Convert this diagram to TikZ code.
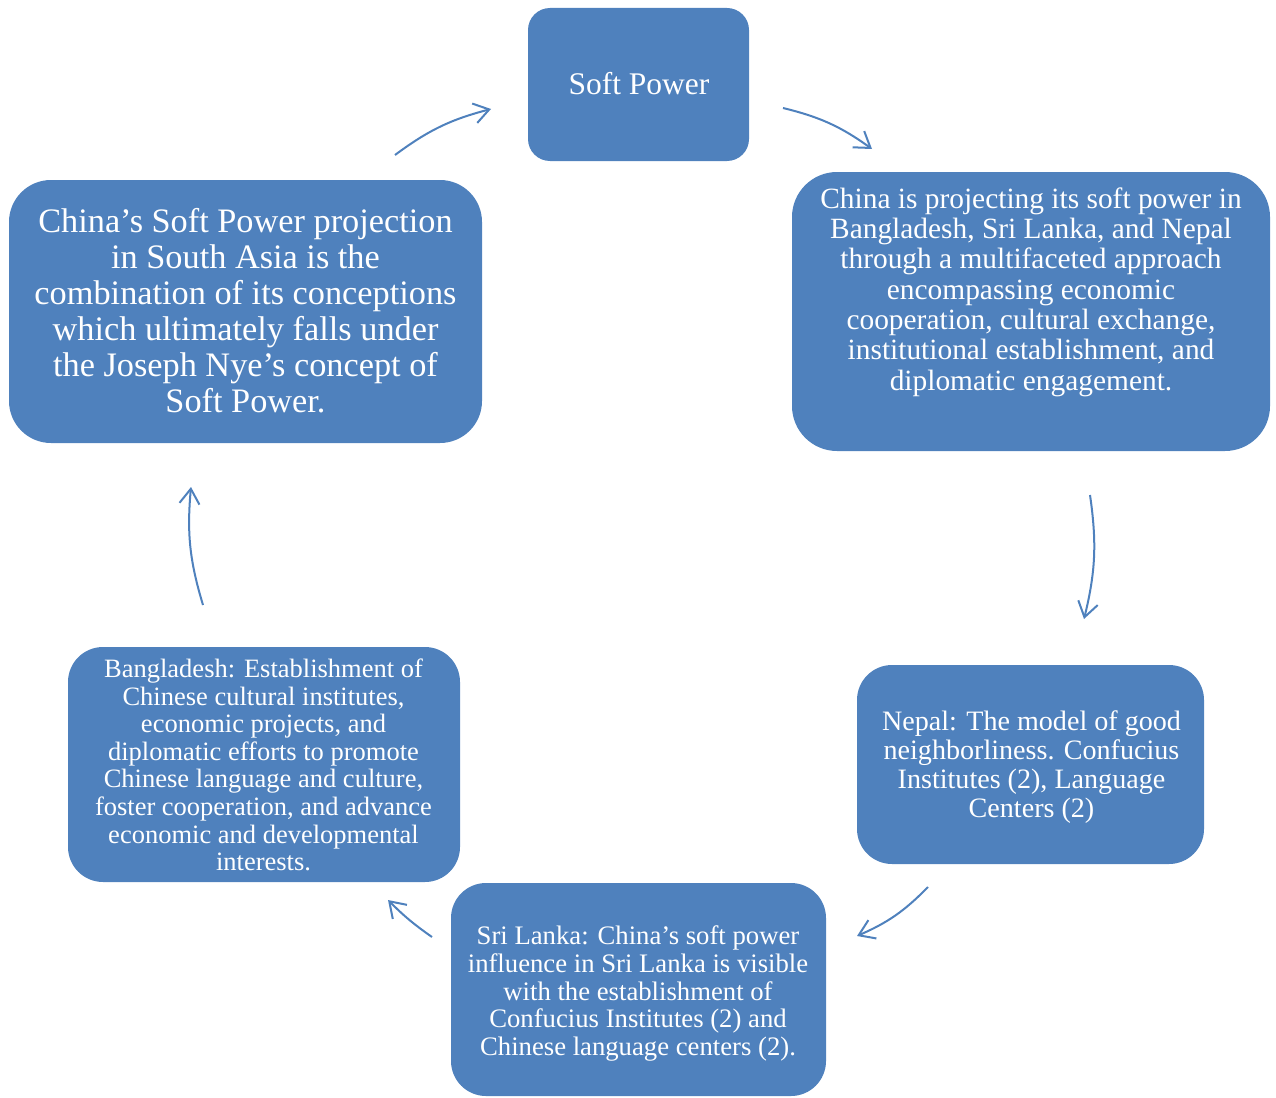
\documentclass[tikz,border=0pt]{standalone}
\usepackage{fontspec}
\setmainfont{Liberation Serif}
\usetikzlibrary{arrows.meta}
\definecolor{boxblue}{HTML}{4F81BD}
\begin{document}
\begin{tikzpicture}[x=1pt,y=-1pt,
  card/.style={fill=boxblue, draw=none, inner sep=0pt, rounded corners=35pt},
  cardtext/.style={text=white, align=center, inner sep=0pt},
  flow/.style={draw=boxblue, line width=2pt,
    -{Straight Barb[length=15pt,width=20pt]}, bend left=11}]
\useasboundingbox (0,0) rectangle (1276,1097);

% boxes
\node[card, rounded corners=22pt, minimum width=221pt, minimum height=153pt] (soft) at (638.5,84.5) {};
\node[card, rounded corners=45pt, minimum width=478pt, minimum height=279pt] (proj) at (1031,311.5) {};
\node[card, rounded corners=42pt, minimum width=473pt, minimum height=263pt] (nye) at (245.5,311.5) {};
\node[card, minimum width=347pt, minimum height=199pt] (nepal) at (1030.5,764.5) {};
\node[card, minimum width=375pt, minimum height=213pt] (lanka) at (638.5,989.5) {};
\node[card, minimum width=392pt, minimum height=235pt] (bangla) at (264,764.5) {};

% texts
\node[cardtext, font=\fontsize{31.5}{34}\selectfont] (softtext) at (639,84) {Soft Power};
\node[cardtext, font=\fontsize{29.4}{30.3}\selectfont] (projtext) at (1031,292) {China is projecting its soft power in\\
Bangladesh, Sri Lanka, and Nepal\\
through a multifaceted approach\\
encompassing economic\\
cooperation, cultural exchange,\\
institutional establishment, and\\
diplomatic engagement.};
\node[cardtext, font=\fontsize{34.3}{36}\selectfont] (nyetext) at (245.5,311) {China's Soft Power projection\\
in South Asia is the\\
combination of its conceptions\\
which ultimately falls under\\
the Joseph Nye's concept of\\
Soft Power.};
\node[cardtext, font=\fontsize{28.1}{29}\selectfont] (nepaltext) at (1031.5,767.5) {Nepal: The model of good\\
neighborliness. Confucius\\
Institutes (2), Language\\
Centers (2)};
\node[cardtext, font=\fontsize{26.7}{27.8}\selectfont] (lankatext) at (638,993.5) {Sri Lanka: China's soft power\\
influence in Sri Lanka is visible\\
with the establishment of\\
Confucius Institutes (2) and\\
Chinese language centers (2).};
\node[cardtext, font=\fontsize{26.5}{27.6}\selectfont] (banglatext) at (263.5,765) {Bangladesh: Establishment of\\
Chinese cultural institutes,\\
economic projects, and\\
diplomatic efforts to promote\\
Chinese language and culture,\\
foster cooperation, and advance\\
economic and developmental\\
interests.};

% cycle arrows
\coordinate (a1s) at (395,155);  \coordinate (a1e) at (491,109);
\coordinate (a2s) at (783,108);  \coordinate (a2e) at (872,149);
\coordinate (a3s) at (1090,495); \coordinate (a3e) at (1084,619);
\coordinate (a4s) at (928,887);  \coordinate (a4e) at (857,936);
\coordinate (a5s) at (432,937);  \coordinate (a5e) at (388,900);
\coordinate (a6s) at (203,605);  \coordinate (a6e) at (191,487);
\draw[flow] (a1s) to (a1e);
\draw[flow] (a2s) to (a2e);
\draw[flow] (a3s) to (a3e);
\draw[flow] (a4s) to (a4e);
\draw[flow, bend left=5] (a5s) to (a5e);
\draw[flow] (a6s) to (a6e);
\end{tikzpicture}
\end{document}
